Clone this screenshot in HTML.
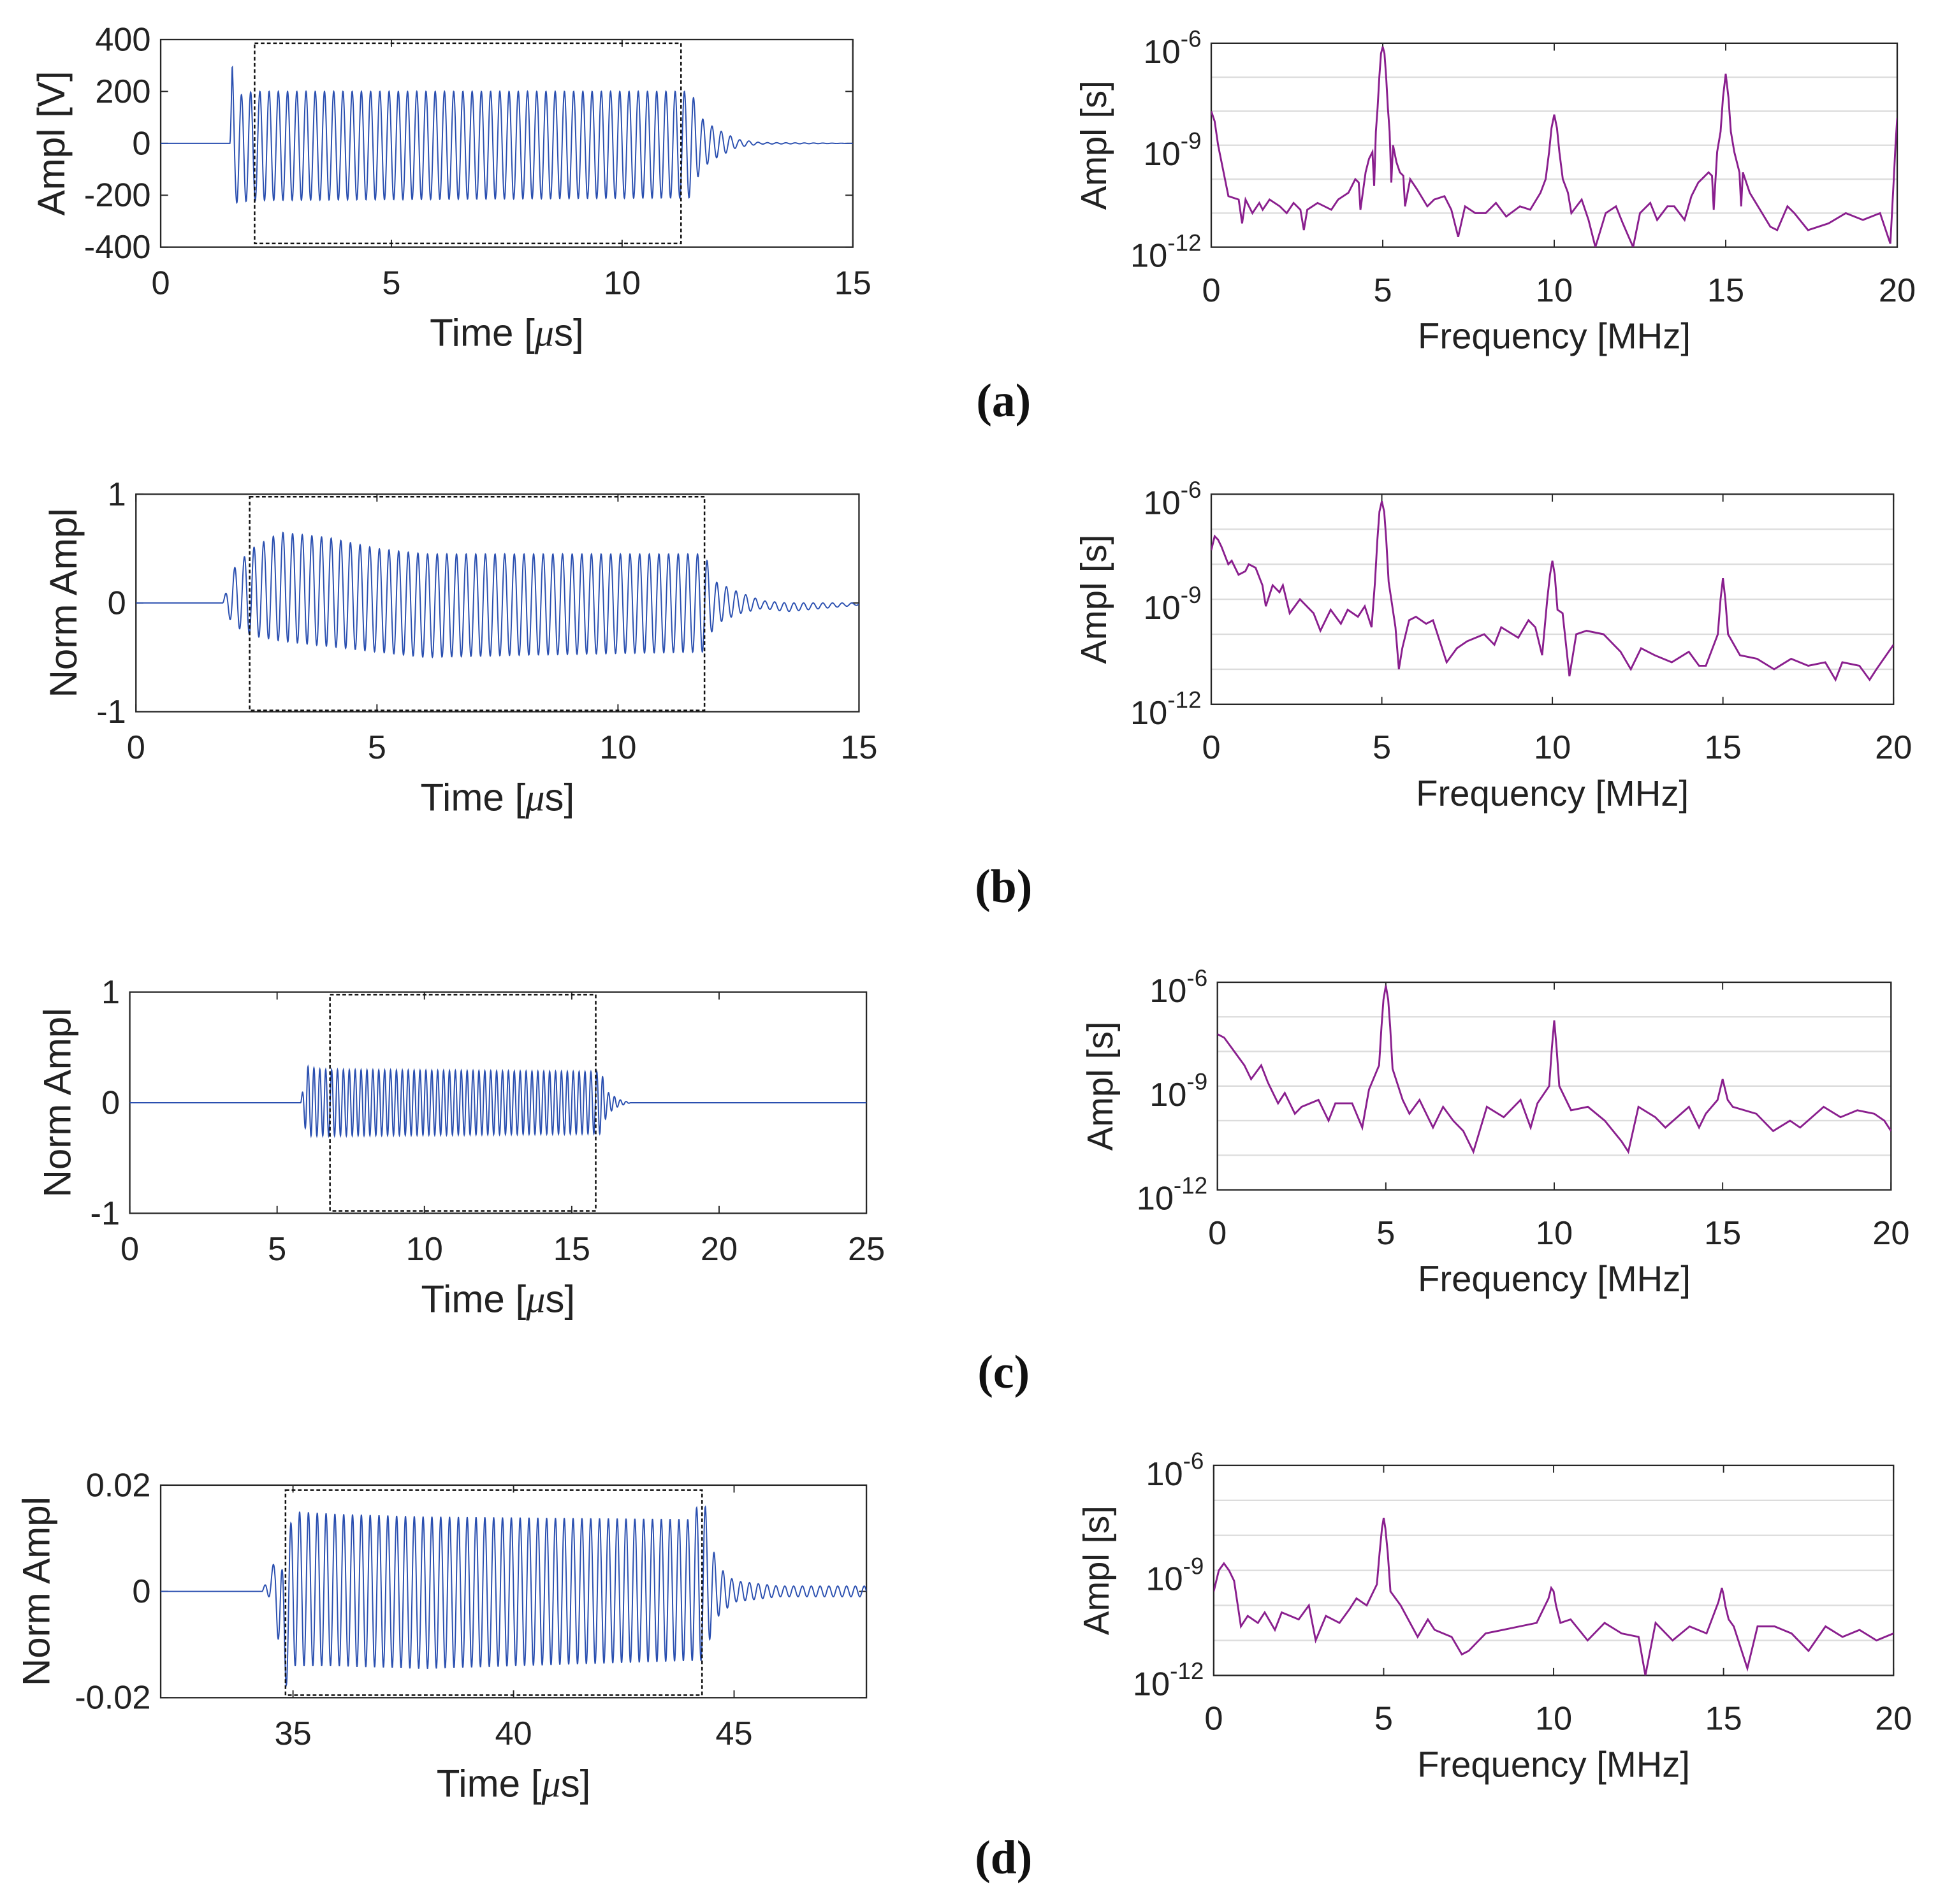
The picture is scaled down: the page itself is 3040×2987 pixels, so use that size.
<!DOCTYPE html>
<html><head><meta charset="utf-8"><style>
html,body{margin:0;padding:0;background:#fff;width:3040px;height:2987px;overflow:hidden}
svg text{font-family:"Liberation Sans",Arial,sans-serif;fill:#222}
svg text.serif{font-family:"Liberation Serif","Times New Roman",serif;font-weight:bold;fill:#111}
svg tspan.mu{font-family:"Liberation Serif",serif;font-style:italic}
</style></head><body>
<svg id="fig" xmlns="http://www.w3.org/2000/svg" width="3040" height="2987" viewBox="0 0 1568 1541" preserveAspectRatio="none"></svg>
<script>
// ---- time-domain envelope data (time in µs, upper/lower envelope) ----
const tA = [0,1.5,1.55,1.6,2.0,11.3,11.5,11.7,12.0,12.5,13,15];
const upA = [0,0,300,180,200,200,200,100,60,15,3,0];
const loA = [0,0,-200,-230,-220,-210,-210,-100,-60,-15,-3,0];
const tB = [0,1.8,2.0,2.4,3,4,5,6,8,11.8,12,12.5,13,13.5,15];
const upB = [0,0,0.3,0.5,0.65,0.6,0.5,0.45,0.45,0.45,0.2,0.1,0.02,0,0];
const loB = [0,0,-0.2,-0.3,-0.35,-0.4,-0.45,-0.5,-0.48,-0.45,-0.2,-0.1,-0.05,-0.08,-0.02];
const tC = [0,5.8,6.0,6.5,16,16.2,16.6,17,25];
const upC = [0,0,0.33,0.3,0.28,0.1,0.03,0,0];
const loC = [0,0,-0.3,-0.3,-0.28,-0.1,-0.03,0,0];
const tD = [32,34.3,34.6,34.75,35,36,38,44,44.3,44.6,45,46,48];
const upD = [0,0,0.006,0.004,0.015,0.0145,0.014,0.0135,0.018,0.005,0.002,0.001,0.001];
const loD = [0,0,-0.002,-0.02,-0.014,-0.014,-0.0145,-0.013,-0.013,-0.005,-0.002,-0.001,-0.001];
const carrierMHz = 5;
// ---- spectra (freq MHz, log10 amplitude) ----
const fA = [0,0.1,0.2,0.3,0.5,0.8,0.9,1.0,1.2,1.4,1.5,1.7,2,2.2,2.4,2.6,2.7,2.8,3.1,3.5,3.7,4,4.2,4.3,4.35,4.5,4.6,4.7,4.75,4.8,4.85,4.9,4.95,5,5.05,5.1,5.15,5.2,5.25,5.3,5.4,5.5,5.6,5.65,5.8,6,6.3,6.5,6.8,7,7.2,7.4,7.7,8,8.3,8.6,9,9.3,9.6,9.75,9.85,9.92,10,10.08,10.15,10.25,10.4,10.5,10.8,11,11.2,11.5,11.8,12,12.3,12.5,12.8,13,13.3,13.5,13.8,14,14.2,14.5,14.6,14.65,14.75,14.85,14.92,15,15.08,15.15,15.25,15.4,15.45,15.5,15.7,16,16.3,16.5,16.8,17,17.4,18,18.5,19,19.5,19.8,19.9,19.95,20];
const sA = [-8.0,-8.3,-9.0,-9.5,-10.5,-10.6,-11.3,-10.6,-11.0,-10.7,-10.9,-10.6,-10.8,-11.0,-10.7,-10.9,-11.5,-10.9,-10.7,-10.9,-10.6,-10.4,-10.0,-10.1,-10.9,-9.8,-9.4,-9.2,-10.2,-8.6,-7.9,-7.0,-6.3,-6.1,-6.3,-7.0,-7.9,-8.6,-10.1,-9.0,-9.5,-9.8,-9.9,-10.8,-10.0,-10.3,-10.8,-10.6,-10.5,-10.9,-11.7,-10.8,-11.0,-11,-10.7,-11.1,-10.8,-10.9,-10.4,-10.0,-9.2,-8.5,-8.1,-8.5,-9.2,-10.0,-10.4,-11,-10.6,-11.2,-12,-11,-10.8,-11.3,-12,-11,-10.7,-11.2,-10.8,-10.8,-11.2,-10.5,-10.1,-9.8,-9.9,-10.9,-9.2,-8.6,-7.6,-6.9,-7.6,-8.6,-9.2,-9.8,-10.8,-9.8,-10.4,-10.9,-11.4,-11.5,-10.8,-11,-11.5,-11.3,-11,-11.2,-11,-11.9,-10,-9.0,-8.2];
const fB = [0,0.1,0.2,0.3,0.5,0.6,0.8,1,1.1,1.3,1.5,1.6,1.8,2,2.1,2.3,2.6,3,3.2,3.5,3.8,4,4.3,4.5,4.7,4.8,4.87,4.93,5,5.07,5.13,5.2,5.4,5.5,5.6,5.8,6,6.3,6.5,6.9,7.2,7.5,8,8.3,8.5,9,9.3,9.5,9.7,9.85,9.93,10,10.07,10.15,10.3,10.5,10.7,11,11.5,11.8,12,12.3,12.6,13,13.5,14,14.3,14.5,14.85,14.93,15,15.07,15.15,15.5,16,16.5,17,17.5,18,18.3,18.5,19,19.3,19.5,20];
const sB = [-7.6,-7.2,-7.3,-7.5,-8.0,-7.9,-8.3,-8.2,-8.0,-8.1,-8.6,-9.2,-8.6,-8.8,-8.6,-9.4,-9.0,-9.4,-9.9,-9.3,-9.7,-9.3,-9.5,-9.2,-9.8,-8.5,-7.3,-6.5,-6.2,-6.5,-7.3,-8.5,-9.8,-11.0,-10.4,-9.6,-9.5,-9.7,-9.6,-10.8,-10.4,-10.2,-10.0,-10.3,-9.8,-10.1,-9.6,-9.8,-10.6,-9.0,-8.3,-7.9,-8.3,-9.3,-9.4,-11.2,-10.0,-9.9,-10.0,-10.3,-10.5,-11.0,-10.4,-10.6,-10.8,-10.5,-10.9,-10.9,-10.0,-9.0,-8.4,-9.0,-10.0,-10.6,-10.7,-11,-10.7,-10.9,-10.8,-11.3,-10.8,-10.9,-11.3,-11,-10.3];
const fC = [0,0.2,0.5,0.8,1,1.3,1.5,1.8,2,2.3,2.5,3,3.3,3.5,4,4.3,4.5,4.8,4.87,4.93,5,5.07,5.13,5.2,5.5,5.7,6,6.4,6.7,7,7.3,7.6,8,8.5,9,9.3,9.5,9.85,9.93,10,10.07,10.15,10.5,11,11.5,12,12.2,12.5,13,13.3,14,14.3,14.5,14.85,15,15.15,15.3,16,16.5,17,17.3,18,18.5,19,19.5,19.8,20];
const sC = [-7.5,-7.6,-8.0,-8.4,-8.8,-8.4,-8.9,-9.5,-9.2,-9.8,-9.6,-9.4,-10.0,-9.5,-9.5,-10.2,-9.1,-8.4,-7.3,-6.5,-6.1,-6.5,-7.3,-8.5,-9.4,-9.8,-9.4,-10.2,-9.6,-10.0,-10.3,-10.9,-9.6,-9.9,-9.4,-10.2,-9.5,-9.0,-7.9,-7.1,-7.9,-9.0,-9.7,-9.6,-10.0,-10.6,-10.9,-9.6,-9.9,-10.2,-9.6,-10.2,-9.8,-9.4,-8.8,-9.4,-9.6,-9.8,-10.3,-10.0,-10.2,-9.6,-9.9,-9.7,-9.8,-10.0,-10.3];
const fD = [0,0.15,0.3,0.45,0.6,0.8,1,1.3,1.5,1.8,2,2.5,2.8,3,3.3,3.7,4,4.2,4.5,4.8,4.88,4.95,5,5.05,5.12,5.2,5.5,6,6.3,6.5,7,7.3,7.5,8,8.5,9,9.5,9.85,9.93,10,10.07,10.2,10.5,11,11.5,12,12.5,12.7,13,13.5,14,14.5,14.85,14.95,15,15.05,15.15,15.3,15.7,16,16.5,17,17.5,18,18.5,19,19.5,20];
const sD = [-9.6,-9.0,-8.8,-9.0,-9.3,-10.6,-10.3,-10.5,-10.2,-10.7,-10.2,-10.4,-10.0,-11.0,-10.3,-10.5,-10.1,-9.8,-10.0,-9.4,-8.5,-7.8,-7.5,-7.8,-8.5,-9.6,-10.0,-10.9,-10.4,-10.7,-10.9,-11.4,-11.3,-10.8,-10.7,-10.6,-10.5,-9.8,-9.5,-9.6,-10.0,-10.5,-10.4,-11.0,-10.5,-10.8,-10.9,-12.0,-10.5,-11.0,-10.6,-10.8,-9.9,-9.5,-9.7,-10.0,-10.4,-10.6,-11.8,-10.6,-10.6,-10.8,-11.3,-10.6,-10.9,-10.7,-11.0,-10.8];
const specTicks = ['0','5','10','15','20'];

const NS='http://www.w3.org/2000/svg';
const svg=document.getElementById('fig');
function mk(tag,attrs,parent){const e=document.createElementNS(NS,tag);for(const k in attrs)e.setAttribute(k,attrs[k]);(parent||svg).appendChild(e);return e;}
function interp(xs,ys,x){if(x<=xs[0])return ys[0];for(let i=1;i<xs.length;i++){if(x<=xs[i]){const r=(x-xs[i-1])/(xs[i]-xs[i-1]);return ys[i-1]+r*(ys[i]-ys[i-1]);}}return ys[ys.length-1];}
let clipN=0;
function clip(x0,y0,x1,y1){const id='c'+(clipN++);const cp=mk('clipPath',{id:id});mk('rect',{x:x0,y:y0,width:x1-x0,height:y1-y0},cp);return 'url(#'+id+')';}
function txt(x,y,s,size,anchor,parent){const t=mk('text',{x:x,y:y,'font-size':size,'text-anchor':anchor||'middle'},parent);t.textContent=s;return t;}

function timePanel(o){
  const g=mk('g',{});
  
  
  const X=v=>o.x0+(v-o.xmin)/(o.xmax-o.xmin)*(o.x1-o.x0);
  const Y=v=>o.y1-(v-o.ymin)/(o.ymax-o.ymin)*(o.y1-o.y0);
  const box=mk('rect',{x:o.x0,y:o.y0,width:o.x1-o.x0,height:o.y1-o.y0,fill:'#fff',stroke:'#262626','stroke-width':1.2},g);
  
  
  o.xticks.forEach(v=>{mk('line',{x1:X(v),x2:X(v),y1:o.y1,y2:o.y1-6,stroke:'#262626'},g);mk('line',{x1:X(v),x2:X(v),y1:o.y0,y2:o.y0+6,stroke:'#262626'},g);
    const t=txt(X(v),o.y1+38,String(v),27,'middle',g);
    
    });
  o.yticks.forEach((v,i)=>{mk('line',{x1:o.x0,x2:o.x0+6,y1:Y(v),y2:Y(v),stroke:'#262626'},g);mk('line',{x1:o.x1,x2:o.x1-6,y1:Y(v),y2:Y(v),stroke:'#262626'},g);
    const t=txt(o.x0-8,Y(v)+9,o.ylabels[i],27,'end',g);
    
    });
  const cp=clip(o.x0,o.y0,o.x1,o.y1);
  let pts=[];const N=4000;
  for(let i=0;i<=N;i++){const t=o.xmin+(o.xmax-o.xmin)*i/N;const u=interp(o.t,o.up,t),l=interp(o.t,o.lo,t);
    const y=(u+l)/2+(u-l)/2*Math.sin(2*Math.PI*carrierMHz*(t-o.t[1]));pts.push(X(t).toFixed(2)+','+Y(y).toFixed(2));}
  const pl=mk('polyline',{points:pts.join(' '),fill:'none',stroke:'#2a4fb0','stroke-width':1,'clip-path':cp},g);
  
  
  const db=mk('rect',{x:o.dx0,y:o.dy0,width:o.dx1-o.dx0,height:o.dy1-o.dy0,fill:'none',stroke:'#111','stroke-width':1.3,'stroke-dasharray':'3,2'},g);
  
  
  const xl=mk('text',{x:(o.x0+o.x1)/2,y:o.y1+80,'font-size':31,'text-anchor':'middle'},g);
  xl.innerHTML='Time [<tspan class="mu">μ</tspan>s]';
  
  
  const yl=txt(0,0,o.ylab,31,'middle',g);
  yl.setAttribute('transform','translate('+o.ylx+','+(o.y0+o.y1)/2+') rotate(-90)');
  
  
}

function specPanel(o){
  const g=mk('g',{});
  
  
  const X=v=>o.x0+v/20*(o.x1-o.x0);
  const Y=v=>o.y0+(-6-v)/6*(o.y1-o.y0);
  mk('rect',{x:o.x0,y:o.y0,width:o.x1-o.x0,height:o.y1-o.y0,fill:'#fff'},g);
  [-7,-8,-9,-10,-11].forEach(d=>{const gl=mk('line',{x1:o.x0,x2:o.x1,y1:Y(d),y2:Y(d),stroke:'#dcdcdc','stroke-width':1.2},g);
    
    });
  const box=mk('rect',{x:o.x0,y:o.y0,width:o.x1-o.x0,height:o.y1-o.y0,fill:'none',stroke:'#262626','stroke-width':1.2},g);
  
  
  specTicks.forEach(s=>{const v=+s;mk('line',{x1:X(v),x2:X(v),y1:o.y1,y2:o.y1-6,stroke:'#262626'},g);mk('line',{x1:X(v),x2:X(v),y1:o.y0,y2:o.y0+6,stroke:'#262626'},g);
    const t=txt(X(v),o.y1+44,s,27,'middle',g);
    
    });
  [-6,-9,-12].forEach(d=>{const t=mk('text',{x:o.x0-8,y:Y(d)+16,'font-size':27,'text-anchor':'end'},g);
    t.innerHTML='10<tspan dy="-13" font-size="19">'+d+'</tspan>';
    
    });
  const cp=clip(o.x0,o.y0,o.x1,o.y1);
  const pts=o.f.map((f,i)=>X(f).toFixed(2)+','+Y(o.s[i]).toFixed(2)).join(' ');
  const pl=mk('polyline',{points:pts,fill:'none',stroke:'#8a1f8e','stroke-width':1.5,'clip-path':cp},g);
  
  
  const xl=txt((o.x0+o.x1)/2,o.y1+82,'Frequency [MHz]',29,'middle',g);
  
  
  const yl=txt(0,0,'Ampl [s]',29,'middle',g);
  yl.setAttribute('transform','translate('+(o.x0-85)+','+(o.y0+o.y1)/2+') rotate(-90)');
  
  
}
function panelLabel(ch,y){const t=mk('text',{x:812,y:y,'font-size':38,'text-anchor':'middle','class':'serif'});
  t.textContent='('+ch+')';
  
  }

timePanel({name:'time-plot-a',x0:130,x1:690,y0:32,y1:200,xmin:0,xmax:15,ymin:-400,ymax:400,xticks:[0,5,10,15],yticks:[400,200,0,-200,-400],ylabels:['400','200','0','-200','-400'],t:tA,up:upA,lo:loA,dx0:206,dx1:551,dy0:35,dy1:197,ylab:'Ampl [V]',ylx:52});
specPanel({name:'spectrum-plot-a',x0:980,x1:1535,y0:35,y1:200,f:fA,s:sA});
panelLabel('a',337);
timePanel({name:'time-plot-b',x0:110,x1:695,y0:400,y1:576,xmin:0,xmax:15,ymin:-1,ymax:1,xticks:[0,5,10,15],yticks:[1,0,-1],ylabels:['1','0','-1'],t:tB,up:upB,lo:loB,dx0:202,dx1:570,dy0:402,dy1:575,ylab:'Norm Ampl',ylx:62});
specPanel({name:'spectrum-plot-b',x0:980,x1:1532,y0:400,y1:570,f:fB,s:sB});
panelLabel('b',730);
timePanel({name:'time-plot-c',x0:105,x1:701,y0:803,y1:982,xmin:0,xmax:25,ymin:-1,ymax:1,xticks:[0,5,10,15,20,25],yticks:[1,0,-1],ylabels:['1','0','-1'],t:tC,up:upC,lo:loC,dx0:267,dx1:482,dy0:805,dy1:980,ylab:'Norm Ampl',ylx:57});
specPanel({name:'spectrum-plot-c',x0:985,x1:1530,y0:795,y1:963,f:fC,s:sC});
panelLabel('c',1123);
timePanel({name:'time-plot-d',x0:130,x1:701,y0:1202,y1:1374,xmin:32,xmax:48,ymin:-0.02,ymax:0.02,xticks:[35,40,45],yticks:[0.02,0,-0.02],ylabels:['0.02','0','-0.02'],t:tD,up:upD,lo:loD,dx0:231,dx1:568,dy0:1206,dy1:1372,ylab:'Norm Ampl',ylx:40});
specPanel({name:'spectrum-plot-d',x0:982,x1:1532,y0:1186,y1:1356,f:fD,s:sD});
panelLabel('d',1516);
</script>
</body></html>
